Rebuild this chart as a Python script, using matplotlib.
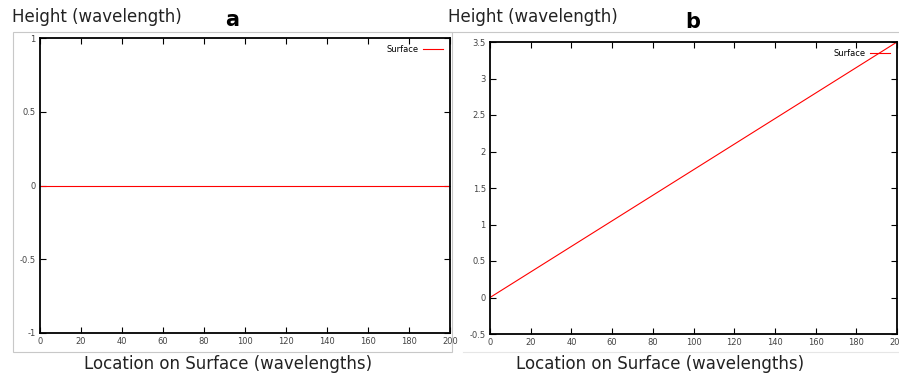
import matplotlib.pyplot as plt
from matplotlib.lines import Line2D

# data
x_a = [0, 200]
y_a = [0, 0]
x_b = [0, 200]
y_b = [0, 3.5]

xticks = list(range(0, 201, 20))
yticks_a = [-1, -0.5, 0, 0.5, 1]
yticks_b = [-0.5, 0, 0.5, 1, 1.5, 2, 2.5, 3, 3.5]

W, H = 899, 375
fig = plt.figure(figsize=(W / 100, H / 100), dpi=100)


def fx(px):
    return px / W


def fy(py):
    return 1 - py / H


def make_axes(l, t, r, b):
    return fig.add_axes([fx(l), fy(b), fx(r) - fx(l), fy(t) - fy(b)])


def style(ax, yticks, ylim):
    ax.set_xlim(0, 200)
    ax.set_ylim(*ylim)
    ax.set_xticks(xticks)
    ax.set_yticks(yticks)
    ax.set_yticklabels([f"{v:g}" for v in yticks])
    ax.tick_params(direction="in", top=True, right=True, length=4, width=0.8,
                   labelsize=6, labelcolor="#444444", pad=3)
    for s in ax.spines.values():
        s.set_linewidth(1.3)
    leg = ax.legend(loc="upper right", frameon=False, fontsize=6, markerfirst=False,
                    handlelength=2.5, borderaxespad=0.4, handletextpad=0.5)
    return leg


# grey frames around the panels
grey = "#c8c8c8"
fig.add_artist(plt.Rectangle((fx(13), fy(352)), fx(452) - fx(13), fy(32) - fy(352),
                             transform=fig.transFigure, fill=False, ec=grey, lw=0.8))
fig.add_artist(Line2D([fx(440), fx(899)], [fy(32), fy(32)], transform=fig.transFigure,
                      color=grey, lw=0.8))
fig.add_artist(Line2D([fx(463), fx(899)], [fy(352), fy(352)], transform=fig.transFigure,
                      color="#e6e6e6", lw=0.8))

ax1 = make_axes(40, 38, 450, 333)
ax1.plot(x_a, y_a, color="red", lw=0.8, label="Surface")
style(ax1, yticks_a, (-1, 1))

ax2 = make_axes(490, 42, 897, 334)
ax2.plot(x_b, y_b, color="red", lw=0.8, label="Surface")
style(ax2, yticks_b, (-0.5, 3.5))

lab = dict(fontsize=12, color="#222222", family="DejaVu Sans")
fig.text(fx(12), fy(17), "Height (wavelength)", va="center", ha="left", **lab)
fig.text(fx(448), fy(17), "Height (wavelength)", va="center", ha="left", **lab)
fig.text(fx(232), fy(20), "a", va="center", ha="center", fontsize=15, fontweight="bold")
fig.text(fx(693), fy(22), "b", va="center", ha="center", fontsize=15, fontweight="bold")
fig.text(fx(228), fy(364), "Location on Surface (wavelengths)", va="center", ha="center", **lab)
fig.text(fx(660), fy(364), "Location on Surface (wavelengths)", va="center", ha="center", **lab)

fig.savefig("out.png", dpi=100)
